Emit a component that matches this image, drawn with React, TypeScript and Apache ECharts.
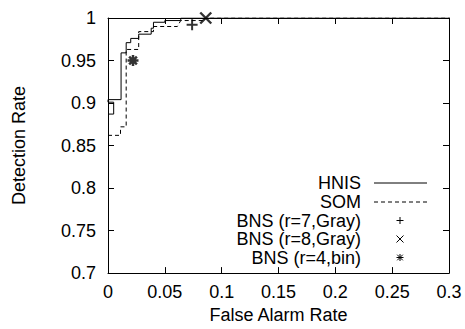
import React, { useEffect, useRef } from "react";
import * as echarts from "echarts";

const xTicks = [0, 0.05, 0.1, 0.15, 0.2, 0.25, 0.3];
const yTicks = [0.7, 0.75, 0.8, 0.85, 0.9, 0.95, 1];

const hnis: number[][] = [
  [0, 0.887], [0.005, 0.887], [0.005, 0.901], [0, 0.901], [0, 0.904],
  [0.0115, 0.904], [0.0115, 0.959], [0.016, 0.959], [0.016, 0.971],
  [0.02, 0.971], [0.02, 0.976], [0.027, 0.976], [0.027, 0.981],
  [0.038, 0.981], [0.038, 0.988], [0.04, 0.988], [0.04, 0.995],
  [0.05, 0.995], [0.05, 0.997], [0.064, 0.997], [0.064, 1], [0.3, 1],
];
const som: number[][] = [
  [0, 0.862], [0.011, 0.862], [0.011, 0.872], [0.016, 0.872],
  [0.016, 0.963], [0.027, 0.963], [0.027, 0.984], [0.04, 0.984],
  [0.04, 0.99], [0.061, 0.99], [0.064, 0.997], [0.085, 0.997],
  [0.085, 1], [0.3, 1],
];
const bns7Gray: number[][] = [[0.074, 0.992]];
const bns8Gray: number[][] = [[0.086, 1.0]];
const bns4Bin: number[][] = [[0.022, 0.95]];

const legendNames = ["HNIS", "SOM", "BNS (r=7,Gray)", "BNS (r=8,Gray)", "BNS (r=4,bin)"];

const FONT = "'Liberation Sans', Arial, Helvetica, sans-serif";
const FS = 18;

const PLUS = "path://M5,0L5,10M0,5L10,5";
const CROSS = "path://M0,0L10,10M10,0L0,10";
const STAR = "path://M5,0L5,10M0,5L10,5M1.5,1.5L8.5,8.5M8.5,1.5L1.5,8.5";

export default function App() {
  const ref = useRef<HTMLDivElement>(null);
  useEffect(() => {
    if (!ref.current) return;
    const chart = echarts.init(ref.current, undefined, { renderer: "svg" });
    const axisCommon = {
      type: "value" as const,
      interval: 0.05,
      splitLine: { show: false },
      axisLine: { show: true, onZero: false, lineStyle: { color: "#000", width: 1 } },
      axisTick: { show: true, inside: true, length: 6, lineStyle: { color: "#000", width: 1 } },
    };
    const labelStyle = { color: "#000", fontSize: FS, fontFamily: FONT };

    const lx = 361;
    const lineX0 = 374;
    const lineX1 = 427;
    const mx = 400;
    const rows = [183, 202, 220.5, 239, 257.5];
    const graphics: any[] = [];
    legendNames.forEach((n, i) => {
      graphics.push({
        type: "text",
        x: lx,
        y: rows[i],
        style: {
          text: n,
          fill: "#000",
          font: `${FS}px ${FONT}`,
          textAlign: "right",
          textVerticalAlign: "middle",
        },
      });
    });
    graphics.push({
      type: "line",
      shape: { x1: lineX0, y1: rows[0], x2: lineX1, y2: rows[0] },
      style: { stroke: "#000", lineWidth: 1 },
    });
    graphics.push({
      type: "line",
      shape: { x1: lineX0, y1: rows[1], x2: lineX1, y2: rows[1] },
      style: { stroke: "#000", lineWidth: 1, lineDash: [4, 3] },
    });
    const s = 3.5;
    // plus
    graphics.push({ type: "line", shape: { x1: mx - s, y1: rows[2], x2: mx + s, y2: rows[2] }, style: { stroke: "#000", lineWidth: 1 } });
    graphics.push({ type: "line", shape: { x1: mx, y1: rows[2] - s, x2: mx, y2: rows[2] + s }, style: { stroke: "#000", lineWidth: 1 } });
    // cross
    graphics.push({ type: "line", shape: { x1: mx - s, y1: rows[3] - s, x2: mx + s, y2: rows[3] + s }, style: { stroke: "#000", lineWidth: 1 } });
    graphics.push({ type: "line", shape: { x1: mx + s, y1: rows[3] - s, x2: mx - s, y2: rows[3] + s }, style: { stroke: "#000", lineWidth: 1 } });
    // star
    graphics.push({ type: "line", shape: { x1: mx, y1: rows[4] - s, x2: mx, y2: rows[4] + s }, style: { stroke: "#000", lineWidth: 1 } });
    graphics.push({ type: "line", shape: { x1: mx - s, y1: rows[4], x2: mx + s, y2: rows[4] }, style: { stroke: "#000", lineWidth: 1 } });
    graphics.push({ type: "line", shape: { x1: mx - s * 0.8, y1: rows[4] - s * 0.8, x2: mx + s * 0.8, y2: rows[4] + s * 0.8 }, style: { stroke: "#000", lineWidth: 1 } });
    graphics.push({ type: "line", shape: { x1: mx + s * 0.8, y1: rows[4] - s * 0.8, x2: mx - s * 0.8, y2: rows[4] + s * 0.8 }, style: { stroke: "#000", lineWidth: 1 } });

    chart.setOption({
      animation: false,
      backgroundColor: "#fff",
      grid: { left: 108, right: 16, top: 18, bottom: 54, containLabel: false },
      xAxis: [
        {
          ...axisCommon,
          position: "bottom",
          min: xTicks[0],
          max: xTicks[xTicks.length - 1],
          axisLabel: { ...labelStyle, margin: 10, formatter: (v: number) => String(parseFloat(v.toFixed(3))) },
          name: "False Alarm Rate",
          nameLocation: "middle",
          nameGap: 29,
          nameTextStyle: { color: "#000", fontSize: FS, fontFamily: FONT },
        },
        {
          ...axisCommon,
          position: "top",
          min: xTicks[0],
          max: xTicks[xTicks.length - 1],
          axisLabel: { show: false },
        },
      ],
      yAxis: [
        {
          ...axisCommon,
          position: "left",
          min: yTicks[0],
          max: yTicks[yTicks.length - 1],
          axisLabel: { ...labelStyle, margin: 12, formatter: (v: number) => String(parseFloat(v.toFixed(3))) },
          name: "Detection Rate",
          nameLocation: "middle",
          nameGap: 80,
          nameTextStyle: { color: "#000", fontSize: FS, fontFamily: FONT },
        },
        {
          ...axisCommon,
          position: "right",
          min: yTicks[0],
          max: yTicks[yTicks.length - 1],
          axisLabel: { show: false },
        },
      ],
      series: [
        {
          name: legendNames[0],
          type: "line",
          data: hnis,
          symbol: "none",
          lineStyle: { color: "#000", width: 1 },
          z: 3,
        },
        {
          name: legendNames[1],
          type: "line",
          data: som,
          symbol: "none",
          lineStyle: { color: "#000", width: 1, type: [4, 3] },
          z: 3,
        },
        {
          name: legendNames[2],
          type: "scatter",
          data: bns7Gray,
          symbol: PLUS,
          symbolSize: 11,
          itemStyle: { color: "none", borderColor: "#000", borderWidth: 2 },
          z: 4,
        },
        {
          name: legendNames[3],
          type: "scatter",
          data: bns8Gray,
          symbol: CROSS,
          symbolSize: 11,
          clip: false,
          itemStyle: { color: "none", borderColor: "#000", borderWidth: 2.4 },
          z: 4,
        },
        {
          name: legendNames[4],
          type: "scatter",
          data: bns4Bin,
          symbol: STAR,
          symbolSize: 11,
          itemStyle: { color: "none", borderColor: "#000", borderWidth: 2.5 },
          z: 4,
        },
      ],
      graphic: graphics,
    });
    return () => chart.dispose();
  }, []);
  return (
    <div
      ref={ref}
      style={{ position: "fixed", left: 0, top: 0, width: 465, height: 329 }}
    />
  );
}
